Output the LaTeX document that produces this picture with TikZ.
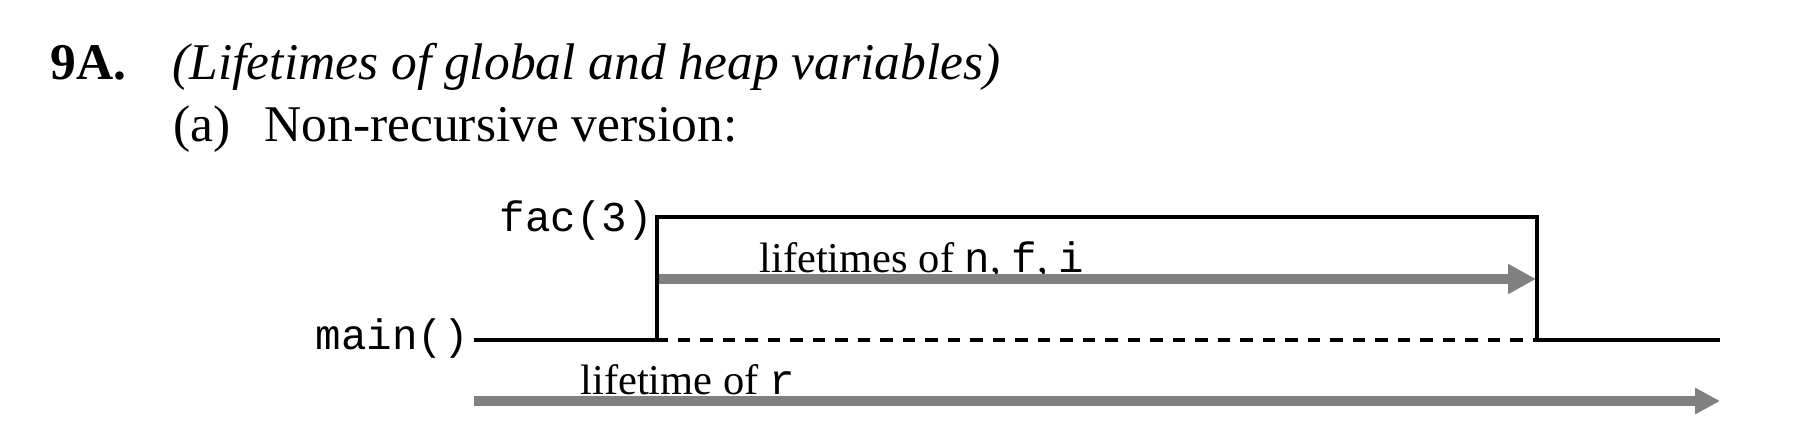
\documentclass[tikz,border=0pt]{standalone}
\usepackage{fontspec}
\setmainfont{Liberation Serif}
\setmonofont{Liberation Mono}
\usetikzlibrary{arrows.meta}
\definecolor{lifegray}{RGB}{128,128,128}
\tikzset{
  titlefont/.style={font=\fontsize{25.75}{30}\selectfont, inner sep=0pt, anchor=base west},
  labelfont/.style={font=\fontsize{21.25}{25}\selectfont, inner sep=0pt},
  frame/.style={draw=black, line width=1.6pt, line join=miter},
  dashframe/.style={draw=black, line width=1.6pt, dash pattern=on 6.35pt off 4.9pt, dash phase=1pt},
  lifearrow/.style={draw=lifegray, line width=4.6pt},
  bigtip/.style={-{Triangle[length=14pt,width=14.2pt]}},
  smalltip/.style={-{Triangle[length=12.5pt,width=12.5pt]}}
}
\begin{document}
\begin{tikzpicture}[x=0.5pt,y=-0.5pt]
\useasboundingbox (0,0) rectangle (1805,436);
% titles
\node[titlefont] (num) at (50,79) {\textbf{9A.}};
\node[titlefont] (head) at (172,79) {\textit{(Lifetimes of global and heap variables)}};
\node[titlefont] (part) at (173,141) {(a)};
\node[titlefont] (parttext) at (264,141) {Non-recursive version:};
% labels
\node[labelfont, anchor=base east] (mainlbl) at (469,349) {\texttt{main()}};
\node[labelfont, anchor=base east] (faclbl) at (653,231) {\texttt{fac(3)}};
\node[labelfont, anchor=base west] (nfi) at (759,272) {lifetimes of \texttt{n}, \texttt{f}, \texttt{i}};
\node[labelfont, anchor=base west] (rlbl) at (580,394) {lifetime of \texttt{r}};
% coordinates
\coordinate (mstart) at (474,340);
\coordinate (callbot) at (657,340);
\coordinate (calltop) at (657,217);
\coordinate (rettop) at (1537,217);
\coordinate (retbot) at (1537,340);
\coordinate (mend) at (1720,340);
\coordinate (fstart) at (657,279);
\coordinate (fend) at (1536,279);
\coordinate (rstart) at (474,401);
\coordinate (rend) at (1720,401);
% lifetime arrows
\draw[lifearrow, bigtip] (fstart) -- (fend);
\draw[lifearrow, smalltip] (rstart) -- (rend);
% control flow
\draw[dashframe] (callbot) -- (retbot);
\draw[frame] (mstart) -- (callbot) -- (calltop) -- (rettop) -- (retbot) -- (mend);
\end{tikzpicture}
\end{document}
